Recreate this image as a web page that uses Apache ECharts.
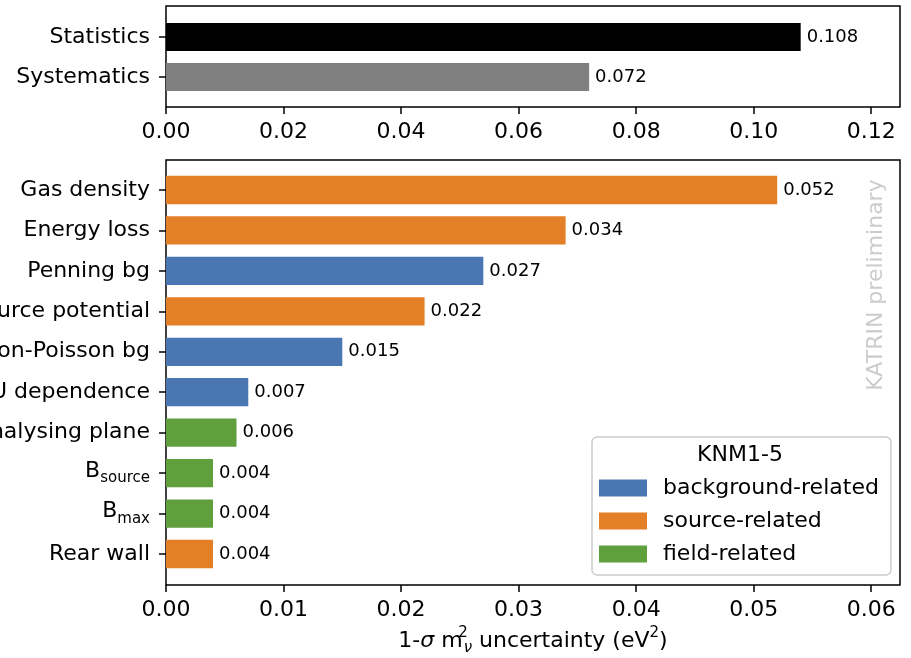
<!DOCTYPE html>
<html>
<head>
<meta charset="utf-8">
<script src="https://cdn.jsdelivr.net/npm/echarts@6/dist/echarts.min.js"></script>
<style>html,body{margin:0;padding:0;background:#fff}#c{width:911px;height:658px}</style>
</head>
<body>
<div id="c"></div>
<script>
// ---- data ----
var topCategories = ['Statistics', 'Systematics'];
var topValues = [0.108, 0.072];
var topTicks = [0, 0.02, 0.04, 0.06, 0.08, 0.10, 0.12];

var categories = ['Gas density', 'Energy loss', 'Penning bg', 'Source potential', 'Non-Poisson bg',
                  'qU dependence', 'Analysing plane', 'B_source', 'B_max', 'Rear wall'];
var values = [0.052, 0.034, 0.027, 0.022, 0.015, 0.007, 0.006, 0.004, 0.004, 0.004];
var groups = ['source', 'source', 'background', 'source', 'background',
              'background', 'field', 'field', 'field', 'source'];
var bottomTicks = [0, 0.01, 0.02, 0.03, 0.04, 0.05, 0.06];

var groupKeys = ['background', 'source', 'field'];
var groupNames = ['background-related', 'source-related', 'field-related'];
var groupColors = ['#4a77b2', '#e37f26', '#5fa03d'];
var topColors = ['#000000', '#808080'];

// ---- chart ----
var FONT = 'DejaVu Sans';
var FS = 22;
var chart = echarts.init(document.getElementById('c'), null, {renderer: 'canvas'});

var topMax = 0.1249, botMax = 0.06245;

function frameX(gi, max, ticks, withName) {
  var ax = {
    type: 'value', gridIndex: gi, min: 0, max: max,
    axisLine: {show: false},
    axisTick: {show: true, inside: false, length: 7, lineStyle: {color: '#000', width: 1.5}, customValues: ticks},
    axisLabel: {show: true, margin: 14, color: '#000', fontFamily: FONT, fontSize: FS,
      customValues: ticks, formatter: function (v) { return v.toFixed(2); }},
    splitLine: {show: false}
  };
  if (withName) {
    ax.name = '1-{it|σ} m{sup|2}{sub|ν} uncertainty (eV{sup2|2})';
    ax.nameLocation = 'middle';
    ax.nameGap = 41;
    ax.nameTextStyle = {
      color: '#000', fontFamily: FONT, fontSize: FS, lineHeight: 30, verticalAlign: 'top',
      rich: {
        it: {fontFamily: FONT, fontSize: FS, fontStyle: 'italic', color: '#000', lineHeight: 30},
        sup: {fontFamily: FONT, fontSize: 15, color: '#000', verticalAlign: 'top', lineHeight: 18, width: 1},
        sup2: {fontFamily: FONT, fontSize: 15, color: '#000', verticalAlign: 'top', lineHeight: 18},
        sub: {fontFamily: FONT, fontSize: 15, color: '#000', verticalAlign: 'bottom', lineHeight: 14, fontStyle: 'italic'}
      }
    };
  }
  return ax;
}

function dataX(gi, max) {
  return {type: 'value', gridIndex: gi, min: 0, max: max, show: false};
}

function catY(gi, cats) {
  return {
    type: 'category', gridIndex: gi, data: cats, inverse: true,
    axisLine: {show: false},
    axisTick: {show: true, alignWithLabel: true, inside: false, length: 7, lineStyle: {color: '#000', width: 1.5}},
    axisLabel: {
      margin: 16, color: '#000', fontFamily: FONT, fontSize: FS,
      formatter: function (v) {
        if (v.indexOf('_') > 0) {
          var p = v.split('_');
          return '{b|' + p[0] + '}{s|' + p[1] + '}';
        }
        return v;
      },
      rich: {
        b: {fontFamily: FONT, fontSize: FS, color: '#000', lineHeight: 26, verticalAlign: 'top'},
        s: {fontFamily: FONT, fontSize: 15, color: '#000', lineHeight: 16, verticalAlign: 'bottom'}
      }
    }
  };
}

var labelStyle = {
  show: true, position: 'right', distance: 6, color: '#000', fontFamily: FONT, fontSize: 18,
  formatter: function (p) { return p.value.toFixed(3); }
};

var series = [];
series.push({
  type: 'bar', xAxisIndex: 1, yAxisIndex: 1, barWidth: '70%',
  data: topValues.map(function (v, i) { return {value: v, itemStyle: {color: topColors[i]}}; }),
  label: labelStyle, silent: true
});
groupKeys.forEach(function (g, gi) {
  series.push({
    type: 'bar', name: groupNames[gi], xAxisIndex: 3, yAxisIndex: 3, stack: 'all', barWidth: '70%',
    itemStyle: {color: groupColors[gi]},
    data: values.map(function (v, i) { return groups[i] === g ? v : '-'; }),
    label: labelStyle, silent: true
  });
});

var G = {left: 166, right: 11, outerBoundsMode: 'none', containLabel: false};
function grid(extra) { return Object.assign({}, G, extra); }

var option = {
  animation: false,
  textStyle: {fontFamily: FONT},
  grid: [
    grid({top: 6, height: 101, show: true, borderColor: '#000', borderWidth: 1.5, backgroundColor: 'transparent'}),
    grid({top: 17, height: 80}),
    grid({top: 160, height: 425, show: true, borderColor: '#000', borderWidth: 1.5, backgroundColor: 'transparent'}),
    grid({top: 169.8, height: 404.4})
  ],
  xAxis: [
    frameX(0, topMax, topTicks, false),
    dataX(1, topMax),
    frameX(2, botMax, bottomTicks, true),
    dataX(3, botMax)
  ],
  yAxis: [
    {type: 'value', gridIndex: 0, show: false},
    catY(1, topCategories),
    {type: 'value', gridIndex: 2, show: false},
    catY(3, categories)
  ],
  legend: {
    data: groupNames, orient: 'vertical', left: 592, top: 437,
    padding: [40, 12, 10, 7], itemWidth: 48, itemHeight: 17, itemGap: 11, icon: 'rect',
    borderColor: '#cccccc', borderWidth: 1.5, borderRadius: 5, backgroundColor: 'rgba(255,255,255,0.8)',
    textStyle: {color: '#000', fontFamily: FONT, fontSize: FS, lineHeight: 22, padding: [0, 0, 0, 11]},
    selectedMode: false
  },
  title: {
    text: 'KNM1-5', left: 740, top: 444, textAlign: 'center', padding: 0,
    textStyle: {color: '#000', fontFamily: FONT, fontSize: FS, fontWeight: 'normal'}
  },
  graphic: [{
    type: 'text', x: 876, y: 285, rotation: Math.PI / 2, silent: true, z: 1,
    style: {text: 'KATRIN preliminary', fill: '#cccccc', fontFamily: FONT, fontSize: FS,
      align: 'center', verticalAlign: 'middle'}
  }],
  series: series
};
chart.setOption(option);
</script>
</body>
</html>
